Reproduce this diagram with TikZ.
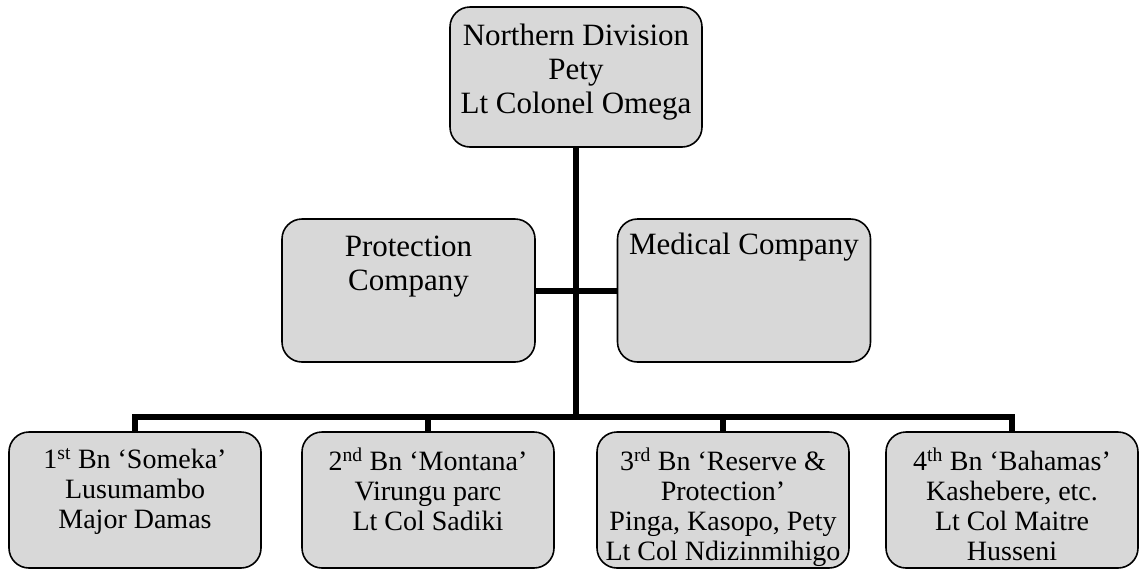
\documentclass[tikz,border=0pt]{standalone}
\usepackage{fontspec}
\setmainfont{Liberation Serif}
\definecolor{boxgray}{RGB}{216,216,216}
\begin{document}
\begin{tikzpicture}[x=1pt,y=-1pt,
  box/.style={draw=black, line width=1.6pt, fill=boxgray, rounded corners=20pt, inner sep=0pt},
  topbox/.style={box, minimum width=252pt, minimum height=140pt},
  midbox/.style={box, minimum width=253pt, minimum height=143pt},
  botbox/.style={box, minimum width=252pt, minimum height=136pt},
  bigtxt/.style={font=\fontsize{31}{34}\selectfont, align=center, inner sep=0pt, anchor=north},
  smalltxt/.style={font=\fontsize{28}{30}\selectfont, align=center, inner sep=0pt, anchor=north},
  conn/.style={line width=6pt, line cap=butt, line join=miter}]
\useasboundingbox (0,0) rectangle (1139,571);
% boxes
\node[topbox] (top) at (576,77) {};
\node[midbox] (prot) at (408.5,290.5) {};
\node[midbox] (med) at (744,290.5) {};
\node[botbox] (b1) at (135,500) {};
\node[botbox] (b2) at (428,500) {};
\node[botbox] (b3) at (723,500) {};
\node[botbox] (b4) at (1012,500) {};
% texts
\node[bigtxt] (ttop) at (576,24) {Northern Division\\Pety\\Lt Colonel Omega};
\node[bigtxt] (tprot) at (408.5,236) {Protection\\Company};
\node[bigtxt] (tmed) at (744,233) {Medical Company};
\node[smalltxt] (tb1) at (135,448) {1\textsuperscript{st} Bn ‘Someka’\\Lusumambo\\Major Damas};
\node[smalltxt] (tb2) at (428,448) {2\textsuperscript{nd} Bn ‘Montana’\\Virungu parc\\Lt Col Sadiki};
\node[smalltxt] (tb3) at (723,448) {3\textsuperscript{rd} Bn ‘Reserve \&\\Protection’\\Pinga, Kasopo, Pety\\Lt Col Ndizinmihigo};
\node[smalltxt] (tb4) at (1012,448) {4\textsuperscript{th} Bn ‘Bahamas’\\Kashebere, etc.\\Lt Col Maitre\\Husseni};
% connectors
\coordinate (bus) at (top.south |- 0,417);
\draw[conn] (top.south) -- (bus);
\draw[conn] (prot.east) -- (med.west);
\draw[conn] (b1.north) |- (bus) -| (b4.north);
\draw[conn] (b2.north) -- (b2.north |- bus);
\draw[conn] (b3.north) -- (b3.north |- bus);
\end{tikzpicture}
\end{document}
